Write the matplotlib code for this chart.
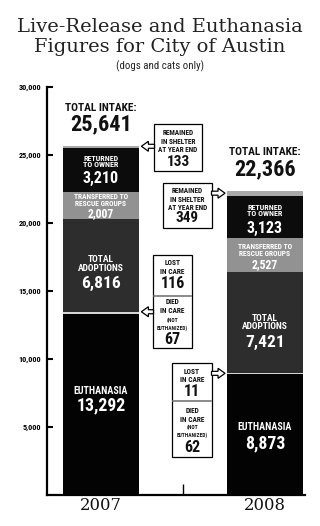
import matplotlib
matplotlib.use("Agg")
import matplotlib.pyplot as plt
from matplotlib import font_manager
from matplotlib.patches import Rectangle, Polygon
from matplotlib.lines import Line2D

# ---------------- data ----------------
years = ["2007", "2008"]
euthanasia = [13292, 8873]
lost_in_care = [116, 11]
died_in_care = [67, 62]
adoptions = [6816, 7421]
transferred = [2007, 2527]
returned = [3210, 3123]
remained = [133, 349]
total_intake = [25641, 22366]
ytick_values = [5000, 10000, 15000, 20000, 25000, 30000]
ytick_labels = ["5,000", "10,000", "15,000", "20,000", "25,000", "30,000"]

# ---------------- fonts ----------------
names = {f.name for f in font_manager.fontManager.ttflist}
COND = next((n for n in ["Liberation Sans Narrow", "Roboto Condensed", "Open Sans Condensed", "DejaVu Sans"] if n in names), "DejaVu Sans")
SERIF = "DejaVu Serif"

W, H = 320, 526
fig = plt.figure(figsize=(W / 100, H / 100), dpi=100)
fig.patch.set_facecolor("white")


def fx(x):
    return x / W


def fy(y):
    return 1 - y / H


ax = fig.add_axes([fx(47), fy(495), 258 / W, 408 / H])
ax.set_xlim(-0.329, 1.244)
ax.set_ylim(0, 30000)

xs = [0, 1]
bw = 0.463
col_euth = "#030303"
col_lost = "#d6d6d6"
col_adopt = "#2d2d2d"
col_trans = "#929292"
col_ret = "#0c0c0c"
col_rem = "#a9a9a9"

lostdied = [a + b for a, b in zip(lost_in_care, died_in_care)]
segments = [
    ("euth", euthanasia, col_euth),
    ("lost", lostdied, col_lost),
    ("adopt", adoptions, col_adopt),
    ("trans", transferred, col_trans),
    ("ret", returned, col_ret),
    ("rem", remained, col_rem),
]
bottoms = [0, 0]
seg_pos = {}
for key, vals, col in segments:
    ax.bar(xs, vals, bw, bottom=bottoms, color=col, edgecolor="none", zorder=2)
    seg_pos[key] = [(b, b + v) for b, v in zip(bottoms, vals)]
    bottoms = [b + v for b, v in zip(bottoms, vals)]

# axes styling
for s in ["top", "right"]:
    ax.spines[s].set_visible(False)
ax.spines["left"].set_linewidth(1.6)
ax.spines["bottom"].set_linewidth(1.6)
ax.set_yticks(ytick_values)
ax.set_yticklabels(ytick_labels, fontfamily=COND, fontweight="bold", fontsize=5.9)
ax.tick_params(axis="y", direction="in", length=4.5, width=1.5, pad=4)
ax.set_xticks([0.5])
ax.set_xticklabels([""])
ax.tick_params(axis="x", direction="in", length=8, width=1.0)

# year labels
for i, yr in enumerate(years):
    ax.annotate(yr, xy=(xs[i], 0), xytext=(0, -11), textcoords="offset pixels",
                ha="center", va="center", fontsize=11.8, fontfamily=SERIF, color="#111")

# segment text: (label, value list, key, label offset px, value offset px) per year
seg_text = [
    ("EUTHANASIA", euthanasia, "euth", [-13.5, -7.5], [1.0, 8.5], 7.2, 12.8),
    ("TOTAL\nADOPTIONS", adoptions, "adopt", [-1.4, -0.4], [18.0, 19.5], 6.8, 12.5),
    ("TRANSFERRED TO\nRESCUE GROUPS", transferred, "trans", [-5.0, -4.7], [7.8, 9.0], 5.4, 8.5),
    ("RETURNED\nTO OWNER", returned, "ret", [-8.4, -6.3], [8.3, 11.5], 5.8, 11.5),
]
for label, vals, key, loff, voff, lfs, vfs in seg_text:
    for i in range(2):
        b, t_ = seg_pos[key][i]
        mid = (b + t_) / 2
        ax.annotate(label, xy=(xs[i], mid), xytext=(0, -loff[i]), textcoords="offset pixels",
                    ha="center", va="center", color="white", fontsize=lfs, fontfamily=COND,
                    fontweight="bold", linespacing=0.92, zorder=5)
        ax.annotate(f"{vals[i]:,}", xy=(xs[i], mid), xytext=(0, -voff[i]), textcoords="offset pixels",
                    ha="center", va="center", color="white", fontsize=vfs, fontfamily=COND,
                    fontweight="bold", zorder=5)

# total intake
for i in range(2):
    top = seg_pos["rem"][i][1]
    ax.annotate("TOTAL INTAKE:", xy=(xs[i], top), xytext=(0, 38.5), textcoords="offset pixels",
                ha="center", va="center", fontsize=8.2, fontfamily=COND, fontweight="bold", color="#111")
    ax.annotate(f"{total_intake[i]:,}", xy=(xs[i], top), xytext=(0, 22), textcoords="offset pixels",
                ha="center", va="center", fontsize=16, fontfamily=COND, fontweight="bold", color="#111")

# titles
fig.text(0.5, fy(27), "Live-Release and Euthanasia", ha="center", va="center",
         fontsize=14.0, fontfamily=SERIF, color="#222")
fig.text(0.5, fy(47), "Figures for City of Austin", ha="center", va="center",
         fontsize=14.0, fontfamily=SERIF, color="#222")
fig.text(0.5, fy(66), "(dogs and cats only)", ha="center", va="center",
         fontsize=7.8, fontfamily=COND, color="#222")


# callout helpers
def box(x0, y0, x1, y1):
    fig.add_artist(Rectangle((fx(x0), fy(y1)), fx(x1) - fx(x0), (y1 - y0) / H,
                             transform=fig.transFigure, facecolor="white",
                             edgecolor="black", linewidth=0.9, zorder=6))


def arrow(tip_data, direction, base_x):
    # tip in data coords; arrow drawn in pixel space
    disp = ax.transData.transform(tip_data)
    tx, ty = disp[0], H - disp[1]
    d = direction  # -1 points left, +1 points right
    hx = tx - d * 7
    pts = [(tx, ty), (hx, ty - 5), (hx, ty - 2), (base_x, ty - 2),
           (base_x, ty + 2), (hx, ty + 2), (hx, ty + 5)]
    fig.add_artist(Polygon([(fx(p[0]), fy(p[1])) for p in pts], closed=True,
                           transform=fig.transFigure, facecolor="white",
                           edgecolor="black", linewidth=0.9, zorder=7))


def t(x, y, s, fs, bold=True):
    fig.text(fx(x), fy(y), s, ha="center", va="center", fontsize=fs, fontfamily=COND,
             fontweight="bold" if bold else "normal", color="#111", zorder=8)


# 2007 remained
box(154, 124, 202, 171)
arrow((xs[0] + bw / 2 + 0.015, seg_pos["rem"][0][1]), -1, 154.5)
for yy, s in [(133, "REMAINED"), (141.5, "IN SHELTER"), (150, "AT YEAR END")]:
    t(178, yy, s, 5.2)
t(178, 162, f"{remained[0]:,}", 11)

# 2008 remained
box(163, 183, 212, 228)
arrow((xs[1] - bw / 2 - 0.012, sum(seg_pos["rem"][1]) / 2), 1, 211.5)
for yy, s in [(191, "REMAINED"), (199.5, "IN SHELTER"), (208, "AT YEAR END")]:
    t(187.5, yy, s, 5.2)
t(187.5, 218, f"{remained[1]:,}", 11)

# 2007 lost / died
box(153, 255, 192, 348)
fig.add_artist(Line2D([fx(154), fx(191)], [fy(296), fy(296)], transform=fig.transFigure,
                      color="#777", linewidth=1.2, zorder=7))
arrow((xs[0] + bw / 2 + 0.015, seg_pos["lost"][0][1]), -1, 153.5)
t(172.5, 263, "LOST", 5.3)
t(172.5, 272, "IN CARE", 5.3)
t(172.5, 284, f"{lost_in_care[0]:,}", 11.5)
t(172.5, 302, "DIED", 5.3)
t(172.5, 311, "IN CARE", 5.3)
t(172.5, 320, "(NOT", 4.0)
t(172.5, 328, "EUTHANIZED)", 4.0)
t(172.5, 339, f"{died_in_care[0]:,}", 11.5)

# 2008 lost / died
box(172, 363, 212, 457)
fig.add_artist(Line2D([fx(173), fx(211)], [fy(401), fy(401)], transform=fig.transFigure,
                      color="#777", linewidth=1.2, zorder=7))
arrow((xs[1] - bw / 2 - 0.012, seg_pos["lost"][1][1]), 1, 211.5)
t(192, 372, "LOST", 5.3)
t(192, 380.5, "IN CARE", 5.3)
t(192, 392, f"{lost_in_care[1]:,}", 11.5)
t(192, 411, "DIED", 5.3)
t(192, 419.5, "IN CARE", 5.3)
t(192, 427.5, "(NOT", 4.0)
t(192, 435.5, "EUTHANIZED)", 4.0)
t(192, 447, f"{died_in_care[1]:,}", 11.5)

fig.savefig("out.png", dpi=100, facecolor="white")
